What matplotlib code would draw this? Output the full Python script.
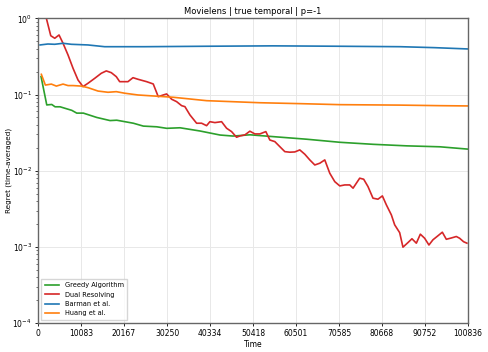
import numpy as np
import matplotlib
matplotlib.use("Agg")
import matplotlib.pyplot as plt

T_MAX = 100836

# Greedy Algorithm
greedy_t = [700, 2040, 3213, 3987, 5159, 7903, 9075, 10623, 13765, 16884, 18455,
            22348, 24693, 27835, 30180, 33299, 37989, 42679, 45728, 49714, 55178,
            63010, 70819, 78629, 86460, 94269, 100836]
greedy_v = [0.172, 0.073, 0.074, 0.069, 0.069, 0.062, 0.057, 0.057, 0.050, 0.0455, 0.046,
            0.042, 0.0385, 0.0377, 0.036, 0.0366, 0.0332, 0.0294, 0.0285, 0.0296, 0.028,
            0.0259, 0.0236, 0.0222, 0.0212, 0.0206, 0.0192]

# Dual Resolving
dual_t = [500, 1945, 2976, 3913, 4920, 5858, 7029, 8200, 9372, 10544, 11715, 13285,
          14831, 16003, 17174, 18346, 19143, 20314, 21087, 22259, 23430, 25469, 27015,
          28187, 29358, 30155, 31327, 32498, 33670, 34443, 35615, 37185, 38356, 39528,
          40301, 41473, 43043, 44214, 45386, 46557, 47330, 48502, 49673, 50845, 52016,
          53422, 54360, 55531, 56703, 57874, 59046, 60217, 61389, 62560, 63732, 64903,
          66075, 67246, 68418, 69589, 70761, 71932, 73104, 73877, 75437, 76374, 77382,
          78553, 79725, 80756, 81693, 82865, 83638, 84810, 85583, 86755, 87692, 88723,
          89660, 90668, 91675, 92613, 93784, 94815, 95752, 96924, 98095, 98869, 99806,
          100585]
dual_v = [1.8, 1.0, 0.591, 0.547, 0.604, 0.470, 0.330, 0.221, 0.155, 0.127, 0.1405, 0.163,
          0.190, 0.204, 0.1935, 0.1715, 0.1474, 0.1474, 0.1474, 0.1663, 0.1585, 0.1474, 0.1375,
          0.0937, 0.0986, 0.1017, 0.0867, 0.0806, 0.0714, 0.0693, 0.054, 0.042, 0.042, 0.039,
          0.044, 0.0428, 0.044, 0.0361, 0.0326, 0.0275, 0.0286, 0.0295, 0.033, 0.0304, 0.0304,
          0.0326, 0.0253, 0.0241, 0.0207, 0.0178, 0.0175, 0.01764, 0.01875, 0.01646, 0.01386, 0.0119,
          0.01254, 0.01386, 0.00927, 0.00719, 0.00632, 0.00651, 0.00651, 0.0059, 0.00798, 0.00773, 0.00619,
          0.00436, 0.00423, 0.00467, 0.00356, 0.00263, 0.00195, 0.00154, 0.000993, 0.00114, 0.00128, 0.00112,
          0.00147, 0.0013, 0.00106, 0.00124, 0.0014, 0.00156, 0.00126, 0.00131, 0.00137, 0.0013, 0.00117,
          0.00112]

# Barman et al.
barman_t = [469, 2300, 3900, 5860, 7800, 11700, 15620, 19500, 25000, 40000, 55000,
            70000, 85000, 93000, 100836]
barman_v = [0.447, 0.46, 0.456, 0.47, 0.456, 0.447, 0.424, 0.424, 0.424, 0.43, 0.435,
            0.43, 0.424, 0.412, 0.396]

# Huang et al.
huang_t = [773, 1710, 3116, 4288, 5858, 7029, 8200, 10145, 11715, 14058, 16401, 18346,
           20314, 23430, 25773, 31701, 39528, 52016, 61389, 70761, 84810, 94189, 100836]
huang_v = [0.184, 0.133, 0.137, 0.129, 0.137, 0.131, 0.131, 0.129, 0.123, 0.111, 0.107, 0.109,
           0.104, 0.0986, 0.0967, 0.092, 0.083, 0.078, 0.0759, 0.0736, 0.0726, 0.0714, 0.0708]

xtick_labels = ["0", "10083", "20167", "30250", "40334", "50418", "60501",
                "70585", "80668", "90752", "100836"]

fig = plt.figure(figsize=(4.88, 3.52), dpi=100)
ax = fig.add_axes([0.078, 0.082, 0.881, 0.866])

ax.plot(greedy_t, greedy_v, color="#2ca02c", lw=1.2, label="Greedy Algorithm")
ax.plot(dual_t, dual_v, color="#d62728", lw=1.2, label="Dual Resolving")
ax.plot(barman_t, barman_v, color="#1f77b4", lw=1.2, label="Barman et al.")
ax.plot(huang_t, huang_v, color="#ff7f0e", lw=1.2, label="Huang et al.")

ax.set_yscale("log")
ax.set_ylim(1e-4, 1)
ax.set_xlim(0, T_MAX)
ax.set_xticks([int(s) for s in xtick_labels])
ax.set_xticklabels(xtick_labels)
ax.tick_params(labelsize=5.5, length=2.5, width=0.6, pad=2)
ax.tick_params(which="minor", length=1.5, width=0.4)
ax.grid(True, which="major", color="#e8e8e8", lw=0.7)
for s in ax.spines.values():
    s.set_color("0.4")
    s.set_linewidth(1.0)

ax.set_title("Movielens | true temporal | p=-1", fontsize=6, pad=3)
ax.set_xlabel("Time", fontsize=5.5, labelpad=1)
ax.set_ylabel("Regret (time-averaged)", fontsize=5.2, labelpad=0.5)
ax.legend(loc="lower left", fontsize=4.8, frameon=True, handlelength=2.2,
          borderpad=0.5, labelspacing=0.5, fancybox=False, edgecolor="0.8")

fig.savefig("out.png", dpi=100)
